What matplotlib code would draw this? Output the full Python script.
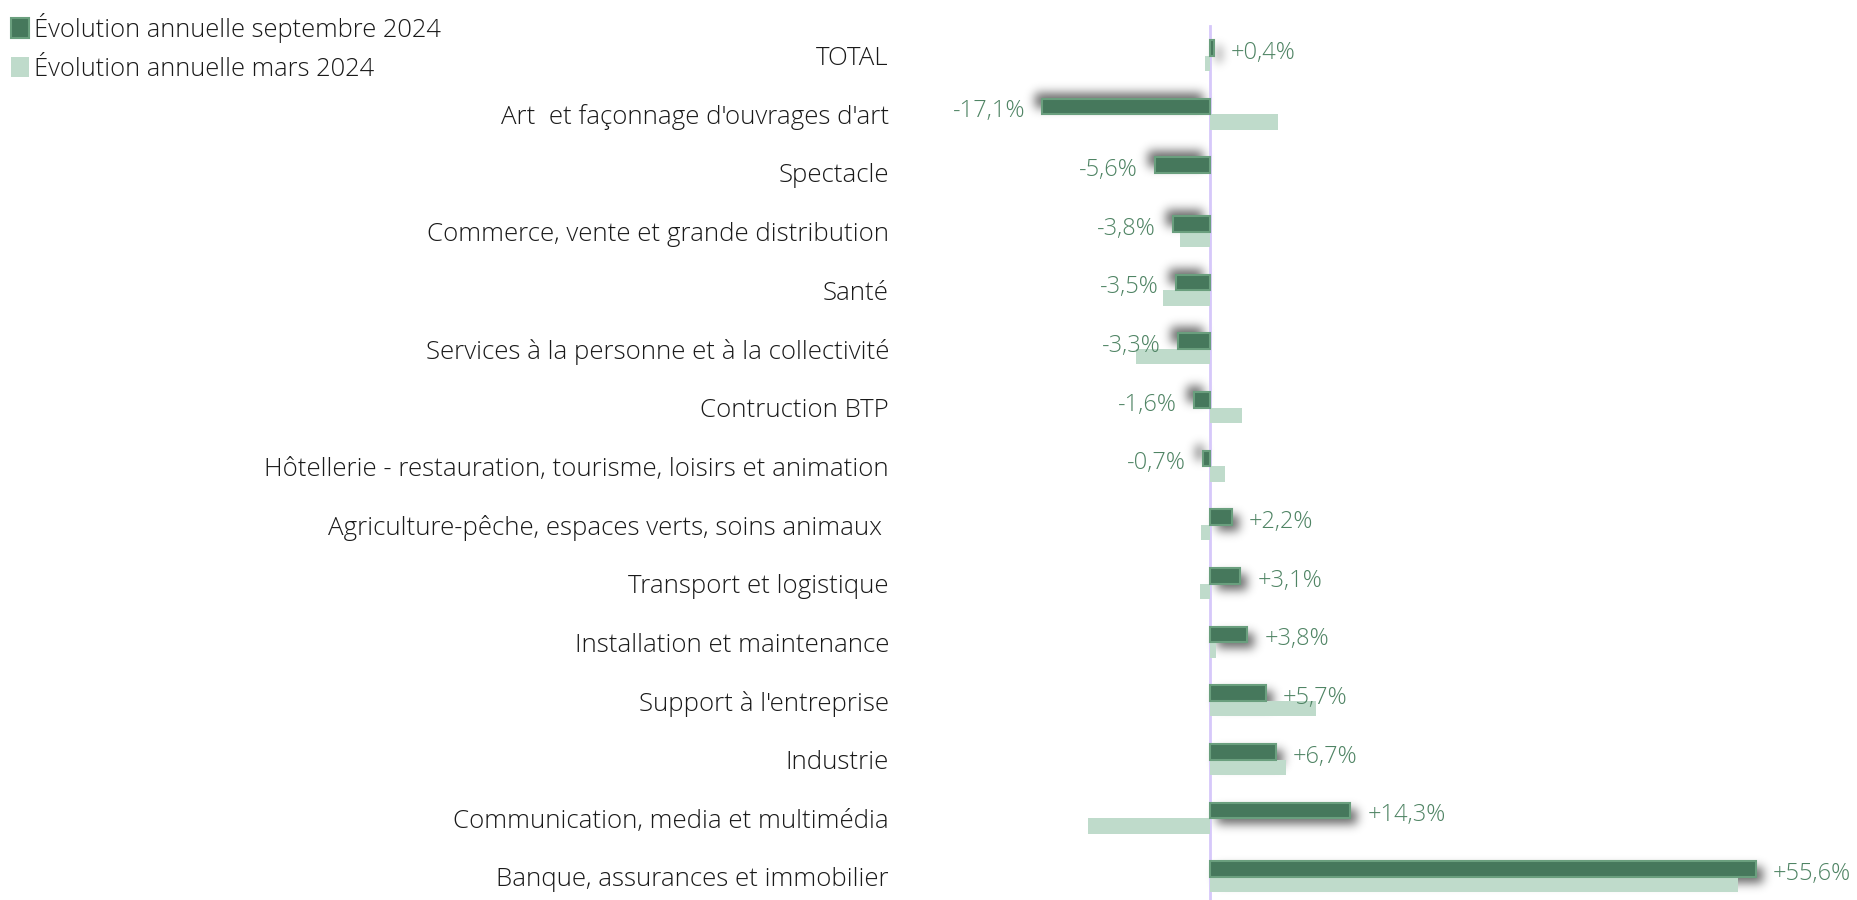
import numpy as np
import matplotlib.pyplot as plt
from matplotlib.patches import Patch

plt.rcParams['font.family'] = ['Open Sans', 'DejaVu Sans']
plt.rcParams['font.weight'] = 'light'

categories = ["TOTAL",
              "Art  et façonnage d'ouvrages d'art",
              "Spectacle",
              "Commerce, vente et grande distribution",
              "Santé",
              "Services à la personne et à la collectivité",
              "Contruction BTP",
              "Hôtellerie - restauration, tourisme, loisirs et animation",
              "Agriculture-pêche, espaces verts, soins animaux ",
              "Transport et logistique",
              "Installation et maintenance",
              "Support à l'entreprise",
              "Industrie",
              "Communication, media et multimédia",
              "Banque, assurances et immobilier"]
sept_2024 = [0.4, -17.1, -5.6, -3.8, -3.5, -3.3, -1.6, -0.7, 2.2, 3.1, 3.8, 5.7, 6.7, 14.3, 55.6]
mars_2024 = [-0.5, 6.9, 0.0, -3.1, -4.8, -7.5, 3.3, 1.5, -0.9, -1.0, 0.6, 10.8, 7.7, -12.4, 53.8]
legend_labels = ['Évolution annuelle septembre 2024', 'Évolution annuelle mars 2024']

dark = '#46785c'
dark_edge = '#6a9f7e'
light = '#bfdbcb'
label_col = '#4f8464'

W, H = 1858, 900
AX_W = 958
fig = plt.figure(figsize=(W / 100, H / 100), dpi=100)
ax = fig.add_axes([900 / W, 0, AX_W / W, 1])

px_x = 1 / 9.82   # data units per pixel, horizontal
px_y = 1 / 58.66  # category units per pixel, vertical
xlim = (-310 * px_x, 648 * px_x)
ylim = (14.395, -0.948)

y = np.arange(len(categories))
sept = np.array(sept_2024)
mars = np.array(mars_2024)
h = 0.265

# soft drop shadow under the dark bars (blurred mask drawn as an image)
mask = np.zeros((H, AX_W))
for i, v in enumerate(sept):
    s = 1 if v >= 0 else -1
    x0 = (min(0, v) - xlim[0]) / px_x + s * 7
    x1 = (max(0, v) - xlim[0]) / px_x + s * 7
    r0 = (y[i] - h - ylim[1]) / px_y + s * 6
    r1 = (y[i] - ylim[1]) / px_y + s * 6
    mask[int(round(r0)):int(round(r1)), int(round(x0)):int(round(x1))] = 1.0

k = np.arange(-15, 16)
kern = np.exp(-k ** 2 / (2 * 5.0 ** 2))
kern /= kern.sum()
blur = np.apply_along_axis(lambda r: np.convolve(r, kern, mode='same'), 1, mask)
blur = np.apply_along_axis(lambda c: np.convolve(c, kern, mode='same'), 0, blur)
shadow = np.zeros((H, AX_W, 4))
shadow[..., 3] = np.clip(blur * 0.6, 0, 1)
ax.imshow(shadow, extent=(xlim[0], xlim[1], ylim[0], ylim[1]), origin='upper',
          aspect='auto', zorder=1, interpolation='nearest')

ax.axvline(0, ymin=0, ymax=1 - 26 / H, color='#d6c8fa', lw=2, zorder=2)

ax.barh(y - h / 2, sept, height=h, color=dark, edgecolor=dark_edge,
        linewidth=1.5, zorder=4)
ax.barh(y + h / 2, mars, height=h, color=light, linewidth=0, zorder=3)

for i, v in enumerate(sept):
    txt = f"{v:+.1f}%".replace('.', ',')
    if v < 0:
        ax.text(v - 17 * px_x, y[i] - 0.05, txt, ha='right', va='center',
                fontsize=17, color=label_col, zorder=5)
    else:
        ax.text(v + 17 * px_x, y[i] - 0.05, txt, ha='left', va='center',
                fontsize=17, color=label_col, zorder=5)

ax.set_xlim(xlim)
ax.set_ylim(ylim)
ax.set_yticks(y)
ax.set_yticklabels(categories, fontsize=18.6, color='#1a1a1a')
ax.tick_params(axis='y', length=0, pad=8)
ax.set_xticks([])
for sp in ax.spines.values():
    sp.set_visible(False)

handles = [Patch(facecolor=dark, edgecolor=dark_edge, linewidth=1.5),
           Patch(facecolor=light, linewidth=0)]
fig.legend(handles, legend_labels, loc='upper left', bbox_to_anchor=(-0.001, 1.0),
           frameon=False, fontsize=18.4, handlelength=0.7, handleheight=0.8,
           handletextpad=0.2, labelspacing=0.55, borderaxespad=0.1,
           labelcolor='#1a1a1a')

fig.savefig('out.png', dpi=100)
